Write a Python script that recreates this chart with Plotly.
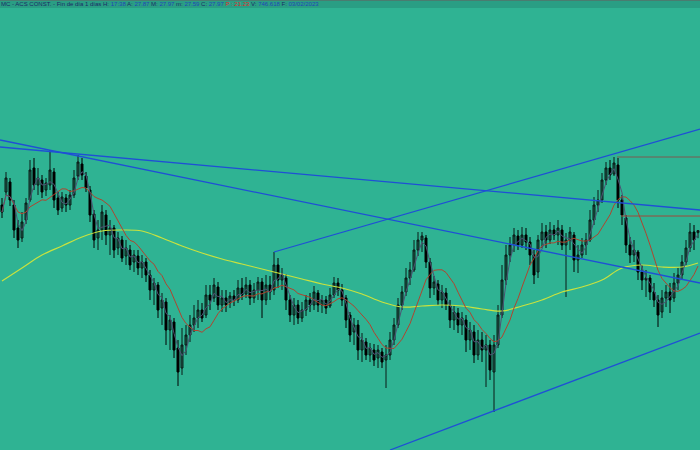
import plotly.graph_objects as go
import pandas as pd

# ---- data (prices) ----
opens = [29.25,29.9,30.4,29.25,28.1,27.6,28.5,29.5,31.1,30.25,30.5,30.0,30.25,30.9,29.6,29.1,29.6,29.25,29.75,30.7,
         31.3,30.7,30.0,28.8,27.6,28.0,28.75,27.75,28.1,27.1,27.5,26.7,27.0,26.4,26.7,26.1,26.4,25.75,25.0,25.25,
         24.1,24.4,23.0,23.4,22.1,21.1,22.25,22.75,23.25,23.6,24.0,23.75,24.75,24.6,25.15,24.25,24.6,24.35,24.7,24.5,
         25.1,24.8,25.25,24.6,25.0,25.4,24.5,25.25,25.0,26.25,25.5,25.6,24.5,23.75,24.25,23.6,24.0,24.5,24.25,24.85,
         24.25,24.5,24.2,24.75,25.35,25.0,24.6,23.75,22.9,23.25,22.0,22.4,21.75,22.0,21.6,21.9,21.5,21.75,22.5,23.25,
         24.25,24.9,25.6,26.0,27.0,27.5,27.6,26.4,25.1,25.3,24.5,24.85,24.25,23.5,23.85,23.25,23.5,22.5,22.9,21.75,
         22.5,22.0,22.25,20.9,22.25,23.75,25.5,26.75,27.25,27.7,27.25,27.75,27.4,26.75,25.9,27.5,27.9,27.5,28.0,27.75,
         28.0,27.25,27.5,27.75,26.5,26.75,27.25,27.5,28.5,29.25,29.5,30.5,31.1,30.8,31.25,29.5,28.6,27.25,26.75,26.9,
         25.9,25.5,25.6,24.9,24.5,23.9,24.6,24.9,24.6,25.35,25.75,26.4,27.1,27.9,27.87]
highs = [29.6,30.9,30.6,29.5,28.5,28.9,29.6,31.5,31.6,31.1,30.75,30.6,32.0,31.1,29.9,29.9,29.8,30.0,31.0,31.75,
         31.6,30.9,30.2,29.0,28.5,29.25,29.0,28.5,28.25,27.9,27.7,27.5,27.25,27.0,27.0,26.75,26.6,26.0,25.6,25.4,
         24.85,24.6,23.75,23.6,22.5,23.1,23.25,23.75,24.25,24.5,24.35,25.25,25.25,25.6,25.4,25.0,25.0,24.9,25.0,25.5,
         25.6,25.65,25.5,25.35,25.65,25.6,25.75,25.7,26.9,26.6,26.1,25.8,24.75,24.6,24.5,24.4,24.75,24.85,25.2,25.0,
         24.75,24.7,25.1,25.65,25.6,25.3,24.75,23.9,23.6,23.5,22.85,22.6,22.35,22.3,22.25,22.1,22.25,22.9,23.6,24.6,
         25.2,26.1,26.4,27.5,27.9,27.9,27.75,26.6,25.7,25.5,25.25,25.1,24.5,24.2,24.1,23.9,23.75,23.4,23.25,23.0,
         22.9,22.75,22.5,22.75,24.25,26.25,27.25,27.65,28.1,28.0,28.15,28.1,27.65,27.0,27.75,28.35,28.25,28.4,28.25,28.5,
         28.25,27.85,28.15,27.9,27.25,27.6,27.85,29.0,29.65,30.0,30.85,31.4,31.5,31.65,31.6,29.75,28.75,27.65,27.5,27.0,
         26.25,26.0,25.75,25.35,24.75,25.0,25.25,25.35,25.85,26.1,26.75,27.5,28.35,28.25,27.97]
lows = [28.6,29.75,29.2,27.6,27.1,27.4,28.3,29.4,30.0,29.75,29.6,29.7,30.0,29.1,28.75,28.9,28.9,29.0,29.6,30.5,
        30.5,29.9,28.4,27.1,27.0,27.5,27.25,26.75,26.6,26.75,26.4,26.25,26.0,25.9,25.75,25.6,25.4,24.5,24.25,23.6,
        23.25,22.25,22.0,21.6,20.2,20.75,21.75,22.4,22.9,23.1,23.4,23.6,24.0,24.4,24.0,23.9,23.9,24.1,24.2,24.35,
        24.5,24.6,24.25,24.35,24.5,23.6,24.25,24.5,24.75,25.1,25.0,24.0,23.4,23.25,23.3,23.4,23.7,23.9,24.0,23.9,
        23.85,23.8,24.1,24.6,24.7,24.2,23.1,22.4,22.25,21.5,21.4,21.5,21.4,21.2,21.1,21.1,20.1,21.5,22.25,23.1,
        24.0,24.7,25.25,25.9,26.7,26.9,26.1,24.6,24.75,24.25,24.1,24.0,23.1,23.0,22.85,22.75,21.9,22.0,21.35,21.5,
        21.4,20.15,20.5,18.9,22.1,23.6,25.25,26.4,26.9,27.0,27.1,27.0,26.25,25.3,25.6,27.1,27.1,27.3,27.5,27.25,
        27.0,24.65,27.0,25.9,25.85,26.6,26.75,27.4,28.25,28.9,29.35,30.25,30.5,30.7,29.1,28.25,26.85,26.35,26.4,25.5,
        25.0,24.65,24.5,24.15,23.15,23.6,24.15,23.85,24.4,25.0,25.5,26.25,26.9,27.0,27.59]
closes = [28.9,30.6,29.5,28.0,27.5,28.4,29.35,31.0,30.25,30.6,29.9,30.35,31.0,29.5,29.0,29.65,29.25,29.75,30.6,31.4,
          30.75,30.1,28.75,27.5,28.0,28.9,27.75,28.1,27.0,27.6,26.6,27.1,26.25,26.75,26.1,26.4,25.75,25.0,25.35,24.0,
          24.5,23.0,23.5,22.0,20.9,22.25,22.75,23.25,23.6,24.0,23.6,24.75,24.5,25.25,24.25,24.6,24.25,24.7,24.5,25.1,
          24.75,25.25,24.6,25.0,25.4,24.5,25.25,24.9,26.25,25.5,25.75,24.5,23.75,24.25,23.6,24.0,24.5,24.25,24.9,24.25,
          24.5,24.1,24.75,25.35,25.0,24.5,23.5,22.75,23.25,22.0,22.5,21.75,22.1,21.5,22.0,21.4,21.75,22.5,23.25,24.25,
          24.9,25.6,26.0,27.0,27.5,27.7,26.4,25.1,25.4,24.5,24.9,24.25,23.5,23.9,23.25,23.6,22.5,23.0,21.75,22.5,
          22.0,22.25,21.0,22.25,23.75,25.5,26.75,27.25,27.75,27.25,27.75,27.4,26.75,25.75,27.5,27.9,27.5,28.0,27.75,28.1,
          27.25,27.5,27.9,26.5,26.75,27.25,27.5,28.5,29.25,29.5,30.5,31.1,30.75,31.35,29.5,28.75,27.25,26.75,27.0,25.9,
          25.5,25.6,24.9,24.5,23.75,24.6,24.9,24.5,25.35,25.75,26.4,27.1,27.9,27.5,27.97]

# long moving average (yellow), read every 5 bars
long_ma_x = [0,5,10,15,20,25,30,35,40,45,50,55,60,65,70,75,80,85,90,95,100,105,110,115,120,125,130,135,140,145,150,155,160,165,170,174]
long_ma = [25.45,26.1,26.75,27.2,27.65,27.95,28.0,27.95,27.6,27.2,26.85,26.55,26.3,26.05,25.8,25.55,25.3,25.1,24.8,24.4,
           24.15,24.2,24.25,24.2,24.05,23.95,24.2,24.5,24.9,25.15,25.5,26.1,26.25,26.15,26.15,26.35]

# trend lines (bar index, price)
trend_x = [[-0.5, 174.5], [-0.5, 174.5], [68, 174.5], [97, 174.5]]
trend_y = [[32.15, 29.0], [32.5, 25.35], [26.9, 33.05], [17.0, 22.85]]
level_x = [[153.75, 174.5], [154.75, 174.5]]
level_y = [[31.65, 31.65], [28.7, 28.7]]

x = list(range(len(closes)))
s = pd.Series(closes)
ma_short = s.rolling(3, min_periods=1).mean()
ma_mid = s.rolling(10, min_periods=1).mean()

BG = "#2fb393"
fig = go.Figure()
fig.add_trace(go.Candlestick(
    x=x, open=opens, high=highs, low=lows, close=closes,
    increasing=dict(line=dict(color="#0b1a16", width=1), fillcolor="#1f5e50"),
    decreasing=dict(line=dict(color="#000000", width=1), fillcolor="#000000"),
    whiskerwidth=0, hoverinfo="skip"))
fig.add_trace(go.Scatter(x=long_ma_x, y=long_ma, mode="lines", line=dict(color="#c9e23e", width=1.2, shape="spline"), hoverinfo="skip"))
fig.add_trace(go.Scatter(x=x, y=ma_mid, mode="lines", line=dict(color="#b0442f", width=1), hoverinfo="skip"))
fig.add_trace(go.Scatter(x=x, y=ma_short, mode="lines", line=dict(color="#4e5273", width=1), hoverinfo="skip"))
for tx, ty in zip(trend_x, trend_y):
    fig.add_trace(go.Scatter(x=tx, y=ty, mode="lines", line=dict(color="#1f4fd6", width=1.3), hoverinfo="skip"))
for lx, ly, c in zip(level_x, level_y, ["#7d5a50", "#a0483a"]):
    fig.add_trace(go.Scatter(x=lx, y=ly, mode="lines", line=dict(color=c, width=1), hoverinfo="skip"))

header = ("<span style='color:#1b2b66'>MC - ACS CONST. - Fin de día 1 días H: </span><span style='color:#2345b8'>17:38</span>"
          "<span style='color:#1b2b66'> A: </span><span style='color:#2345b8'>27.87</span>"
          "<span style='color:#1b2b66'> M: </span><span style='color:#2345b8'>27.97</span>"
          "<span style='color:#1b2b66'> m: </span><span style='color:#2345b8'>27.59</span>"
          "<span style='color:#1b2b66'> C: </span><span style='color:#2345b8'>27.97</span>"
          "<span style='color:#e02a2a'> P : 21.23</span>"
          "<span style='color:#1b2b66'> V: </span><span style='color:#2345b8'>746.618</span>"
          "<span style='color:#1b2b66'> F: </span><span style='color:#2345b8'>03/02/2023</span>")

fig.update_layout(
    width=700, height=450, margin=dict(l=0, r=0, t=0, b=0),
    paper_bgcolor=BG, plot_bgcolor=BG, showlegend=False,
    xaxis=dict(visible=False, range=[-0.5, 174.5], rangeslider=dict(visible=False)),
    yaxis=dict(visible=False, range=[17.0, 39.5]),
    shapes=[
        dict(type="rect", xref="paper", yref="paper", x0=0, x1=1, y0=1 - 8/450, y1=1,
             fillcolor="#2a9e84", line=dict(width=0), layer="above"),
        dict(type="line", xref="paper", yref="paper", x0=0, x1=1, y0=1 - 0.5/450, y1=1 - 0.5/450,
             line=dict(color="#4a7c70", width=1), layer="above"),
    ],
    annotations=[dict(text=header, xref="paper", yref="paper", x=0, y=1 - 0.5/450, xanchor="left", yanchor="top",
                      showarrow=False, font=dict(family="Liberation Sans, Arial", size=6.0), borderpad=0)],
)
fig.write_html("out.html", config={"displayModeBar": False},
               post_script="document.body.style.margin='0';document.body.style.background='" + BG + "';")
